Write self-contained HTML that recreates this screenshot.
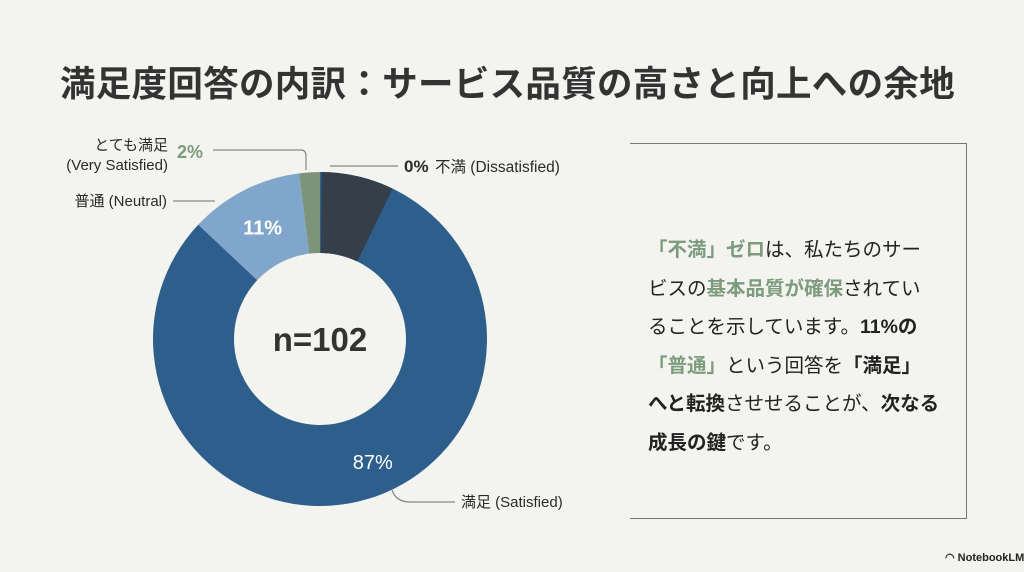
<!DOCTYPE html>
<html><head><meta charset="utf-8">
<style>
html,body{margin:0;padding:0}
body{width:1024px;height:572px;background:#f3f3ef;position:relative;overflow:hidden;font-family:"Liberation Sans","Noto Sans CJK JP",sans-serif;color:#2a2a2a}
.t{position:absolute;white-space:nowrap}
#title{left:60px;top:56px;font-size:35.5px;font-weight:bold;color:#333;letter-spacing:0.3px}
#box{position:absolute;left:630px;top:143px;width:336px;height:374px;border-top:1.5px solid #777;border-right:1.5px solid #777;border-bottom:1.5px solid #777}
#para{position:absolute;left:648px;top:231px;width:320px;font-size:19.5px;line-height:38.5px;color:#222;white-space:nowrap}
.g{color:#7d9b7d;font-weight:bold}.b{font-weight:bold}
</style></head><body>
<div id="title" class="t">満足度回答の内訳：サービス品質の高さと向上への余地</div>
<svg id="chart" width="1024" height="572" style="position:absolute;left:0;top:0"></svg>
<div id="box"></div>
<div id="para"><span class="g">「不満」ゼロ</span>は、私たちのサー<br>ビスの<span class="g">基本品質が確保</span>されてい<br>ることを示しています。<span class="b">11%の</span><br><span class="g">「普通」</span>という回答を<span class="b">「満足」</span><br><span class="b">へと転換</span>させせることが、<span class="b">次なる</span><br><span class="b">成長の鍵</span>です。</div>
<div class="t" style="left:945px;top:551px;font-size:11px;font-weight:bold;color:#222">◠ NotebookLM</div>
<script>
const categories=["不満 (Dissatisfied)","満足 (Satisfied)","普通 (Neutral)","とても満足 (Very Satisfied)"];
const values=[0,87,11,2];
const colors=["#2f4f78","#2e5f8c","#80a6cb","#7c9479"];
const labels=["0%","87%","11%","2%"];
const cx=320,cy=339,R=167,r=86;
const svg=document.getElementById('chart');
const NS='http://www.w3.org/2000/svg';
const total=values.reduce((a,b)=>a+b,0);
function pt(a,rad){return [cx+rad*Math.sin(a),cy-rad*Math.cos(a)];}
function arc(a0,a1){const L=(a1-a0)>Math.PI?1:0;const p0=pt(a0,R),p1=pt(a1,R),q1=pt(a1,r),q0=pt(a0,r);
return `M${p0}L${p0}A${R},${R} 0 ${L} 1 ${p1}L${q1}A${r},${r} 0 ${L} 0 ${q0}Z`;}
let a=0;const angles=[];
values.forEach((v,i)=>{const a1=a+v/total*2*Math.PI;angles.push([a,a1]);
 const p=document.createElementNS(NS,'path');
 p.setAttribute('d',v>0?arc(a,a1):arc(a,a+0.01));
 p.setAttribute('fill',colors[i]);
 
 
 svg.appendChild(p);a=a1;});
const sh=document.createElementNS(NS,'path');
const s0=angles[1][0]+0.01;sh.setAttribute('d',arc(s0,s0+0.07*2*Math.PI));
sh.setAttribute('fill','#353f4a');


svg.appendChild(sh);
function txt(x,y,s,opt){const t=document.createElementNS(NS,'text');t.setAttribute('x',x);t.setAttribute('y',y);t.textContent=s;
 t.setAttribute('font-size',opt.size||14);t.setAttribute('fill',opt.fill||'#2a2a2a');if(opt.bold)t.setAttribute('font-weight','bold');
 if(opt.anchor)t.setAttribute('text-anchor',opt.anchor);t.setAttribute('font-family','Liberation Sans, Noto Sans CJK JP, sans-serif');
 
 
 svg.appendChild(t);return t;}
function line(d,name){const p=document.createElementNS(NS,'path');p.setAttribute('d',d);p.setAttribute('stroke','#888');p.setAttribute('fill','none');p.setAttribute('stroke-width','1.2');
 
 
 svg.appendChild(p);}
const m1=(angles[1][0]+angles[1][1])/2;const p87=pt(m1,133);
txt(p87[0],p87[1]+8,labels[1],{size:20,fill:'#fff',anchor:'middle',name:'label-87'});
const m2=(angles[2][0]+angles[2][1])/2;const p11=pt(m2,(R+r)/2);
txt(p11[0],p11[1]+8,labels[2],{size:20,bold:true,fill:'#fff',anchor:'middle',name:'label-11'});
txt(cx,cy+12,'n=102',{size:33,bold:true,anchor:'middle',fill:'#333',name:'center-total'});
line('M330 166 L398 166','leader-dissatisfied');
txt(404,172,labels[0],{size:17,bold:true,name:'pct-dissatisfied'});
txt(435,172,categories[0],{size:15.5,name:'label-dissatisfied'});
line('M213 150 L301 150 Q306 150 306 156 L306 170','leader-very-satisfied');
txt(177,158,labels[3],{size:18,bold:true,fill:'#7d9b7d',name:'pct-very-satisfied'});
txt(168,150,'とても満足',{size:15,anchor:'end',name:'label-very-satisfied-jp'});
txt(168,170,'(Very Satisfied)',{size:15,anchor:'end',name:'label-very-satisfied-en'});
line('M173 201 L215 201','leader-neutral');
txt(167,206,categories[2],{size:15,anchor:'end',name:'label-neutral'});
line('M392 490 Q396 502 410 502 L455 502','leader-satisfied');
txt(461,507,categories[1],{size:15,name:'label-satisfied'});
</script>
</body></html>
